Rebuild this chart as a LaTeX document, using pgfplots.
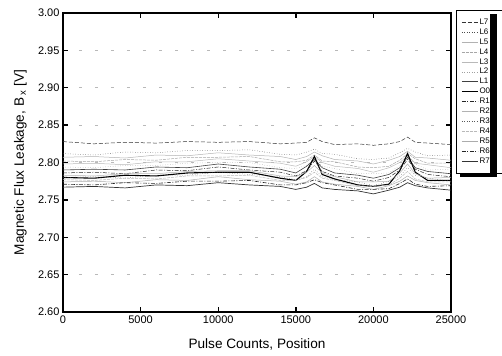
\documentclass[border=0pt]{standalone}
\usepackage{pgfplots}
\pgfplotsset{compat=1.18}
\usepackage{pgfplotstable}
\usepackage{fontspec}
\setmainfont{Liberation Sans}

\pgfplotstableread{
x     L7    L6    L5    L4    L3    L2    L1    O0    R1    R2    R3    R4    R5    R6    R7
0     2.828 2.812 2.807 2.802 2.798 2.794 2.790 2.780 2.786 2.783 2.780 2.777 2.774 2.771 2.767
2000  2.825 2.810 2.808 2.801 2.799 2.793 2.791 2.779 2.787 2.782 2.781 2.776 2.775 2.770 2.768
4000  2.827 2.814 2.806 2.804 2.797 2.796 2.790 2.783 2.785 2.785 2.779 2.779 2.773 2.773 2.766
6000  2.826 2.813 2.810 2.803 2.801 2.796 2.794 2.782 2.790 2.785 2.783 2.778 2.777 2.772 2.770
8000  2.828 2.816 2.809 2.807 2.801 2.799 2.793 2.786 2.789 2.788 2.783 2.782 2.776 2.775 2.769
10000 2.827 2.816 2.813 2.807 2.805 2.800 2.798 2.787 2.794 2.789 2.787 2.782 2.781 2.775 2.773
12000 2.828 2.817 2.810 2.808 2.802 2.800 2.794 2.787 2.790 2.789 2.784 2.783 2.777 2.776 2.770
14000 2.825 2.811 2.808 2.801 2.799 2.793 2.791 2.779 2.787 2.782 2.781 2.776 2.775 2.770 2.768
15000 2.826 2.810 2.804 2.801 2.795 2.792 2.786 2.776 2.782 2.781 2.777 2.776 2.771 2.770 2.764
15700 2.827 2.814 2.808 2.803 2.801 2.796 2.795 2.788 2.789 2.787 2.781 2.780 2.774 2.773 2.767
16200 2.833 2.818 2.814 2.810 2.808 2.806 2.804 2.808 2.802 2.796 2.791 2.787 2.781 2.777 2.772
16700 2.828 2.812 2.809 2.802 2.800 2.795 2.793 2.784 2.788 2.786 2.781 2.779 2.774 2.773 2.766
17500 2.824 2.811 2.804 2.801 2.795 2.792 2.786 2.778 2.782 2.781 2.777 2.776 2.771 2.770 2.764
19000 2.825 2.805 2.802 2.794 2.792 2.785 2.783 2.770 2.779 2.774 2.774 2.769 2.768 2.764 2.762
20000 2.823 2.804 2.798 2.793 2.787 2.785 2.779 2.768 2.775 2.774 2.769 2.768 2.764 2.764 2.758
21000 2.825 2.806 2.803 2.795 2.793 2.786 2.784 2.771 2.780 2.775 2.775 2.770 2.769 2.765 2.763
21700 2.828 2.813 2.808 2.803 2.800 2.796 2.793 2.789 2.790 2.786 2.782 2.779 2.775 2.772 2.767
22200 2.834 2.819 2.815 2.812 2.809 2.808 2.807 2.812 2.804 2.798 2.793 2.788 2.782 2.778 2.773
22700 2.827 2.814 2.807 2.805 2.799 2.798 2.793 2.787 2.791 2.785 2.783 2.778 2.776 2.771 2.769
23500 2.826 2.809 2.806 2.799 2.797 2.790 2.788 2.776 2.784 2.779 2.779 2.774 2.773 2.768 2.766
25000 2.824 2.810 2.803 2.799 2.793 2.791 2.785 2.776 2.781 2.780 2.775 2.774 2.770 2.769 2.763
}\data

\begin{document}
\begin{tikzpicture}
\begin{axis}[
  scale only axis, width=388bp, height=299bp,
  xmin=0, xmax=25000, ymin=2.6, ymax=3.0,
  xtick={0,5000,10000,15000,20000,25000},
  ytick={2.60,2.65,2.70,2.75,2.80,2.85,2.90,2.95,3.00},
  scaled x ticks=false,
  xticklabel style={/pgf/number format/1000 sep={}},
  yticklabel style={/pgf/number format/.cd, fixed, fixed zerofill, precision=2},
  /pgf/number format/assume math mode=true,
  tick label style={font=\fontsize{11bp}{13bp}\selectfont},
  axis line style={line width=1.1bp},
  tick style={black, line width=1.4bp},
  major tick length=5bp,
  tick align=inside,
  ymajorgrids,
  major grid style={gray!55, line width=0.6bp, dash pattern=on 3bp off 13bp},
  every axis x label/.style={at={(axis description cs:0.5,-0.110)}, anchor=center,
    font=\fontsize{13.6bp}{16bp}\selectfont},
  every axis y label/.style={at={(axis description cs:-0.110,0.5)}, rotate=90, anchor=center,
    font=\fontsize{13.6bp}{16bp}\selectfont},
  xlabel={Pulse Counts, Position},
  ylabel={Magnetic Flux Leakage, B\,\textsubscript{x} [V]},
  legend image code/.code={\draw[#1] (0bp,0bp) -- (16bp,0bp);},
  legend style={at={(axis description cs:1.0129,1.010)}, anchor=north west,
    draw=black, line width=0.8bp, inner xsep=5bp, inner ysep=7bp,
    font=\fontsize{8bp}{9bp}\selectfont,
    nodes={inner ysep=0bp, inner xsep=1bp, text height=7bp, text depth=2.9bp},
    /tikz/every even column/.append style={text width=24bp, xshift=2bp},
    row sep=0pt},
  legend cell align=left,
]
\addplot[black!80, line width=0.5bp, dash pattern=on 4bp off 2bp] table[x=x,y=L7]{\data};
\addlegendentry{L7}
\addplot[black!70, line width=0.5bp, dotted] table[x=x,y=L6]{\data};
\addlegendentry{L6}
\addplot[gray!60, line width=0.5bp] table[x=x,y=L5]{\data};
\addlegendentry{L5}
\addplot[gray!70, line width=0.5bp, dash pattern=on 3bp off 1bp] table[x=x,y=L4]{\data};
\addlegendentry{L4}
\addplot[gray!55, line width=0.5bp] table[x=x,y=L3]{\data};
\addlegendentry{L3}
\addplot[gray!75, line width=0.5bp, dotted] table[x=x,y=L2]{\data};
\addlegendentry{L2}
\addplot[black!75, line width=0.6bp] table[x=x,y=L1]{\data};
\addlegendentry{L1}
\addplot[black, line width=1.1bp] table[x=x,y=O0]{\data};
\addlegendentry{O0}
\addplot[black!85, line width=0.5bp, dash pattern=on 4bp off 1.5bp on 1bp off 1.5bp] table[x=x,y=R1]{\data};
\addlegendentry{R1}
\addplot[gray!60, line width=0.5bp] table[x=x,y=R2]{\data};
\addlegendentry{R2}
\addplot[black!65, line width=0.5bp, dotted] table[x=x,y=R3]{\data};
\addlegendentry{R3}
\addplot[gray!55, line width=0.5bp, dash pattern=on 3bp off 1bp] table[x=x,y=R4]{\data};
\addlegendentry{R4}
\addplot[gray!65, line width=0.5bp] table[x=x,y=R5]{\data};
\addlegendentry{R5}
\addplot[black!85, line width=0.6bp, dash pattern=on 4bp off 1.5bp on 1bp off 1.5bp] table[x=x,y=R6]{\data};
\addlegendentry{R6}
\addplot[black!80, line width=0.7bp] table[x=x,y=R7]{\data};
\addlegendentry{R7}
\end{axis}
% legend drop shadow
\fill[black] (427bp,298bp) rectangle (434bp,135bp);
\fill[black] (397bp,139bp) rectangle (434bp,135bp);
\pgfresetboundingbox
\useasboundingbox (-63bp,-44bp) rectangle (439bp,312bp);
\end{tikzpicture}
\end{document}
